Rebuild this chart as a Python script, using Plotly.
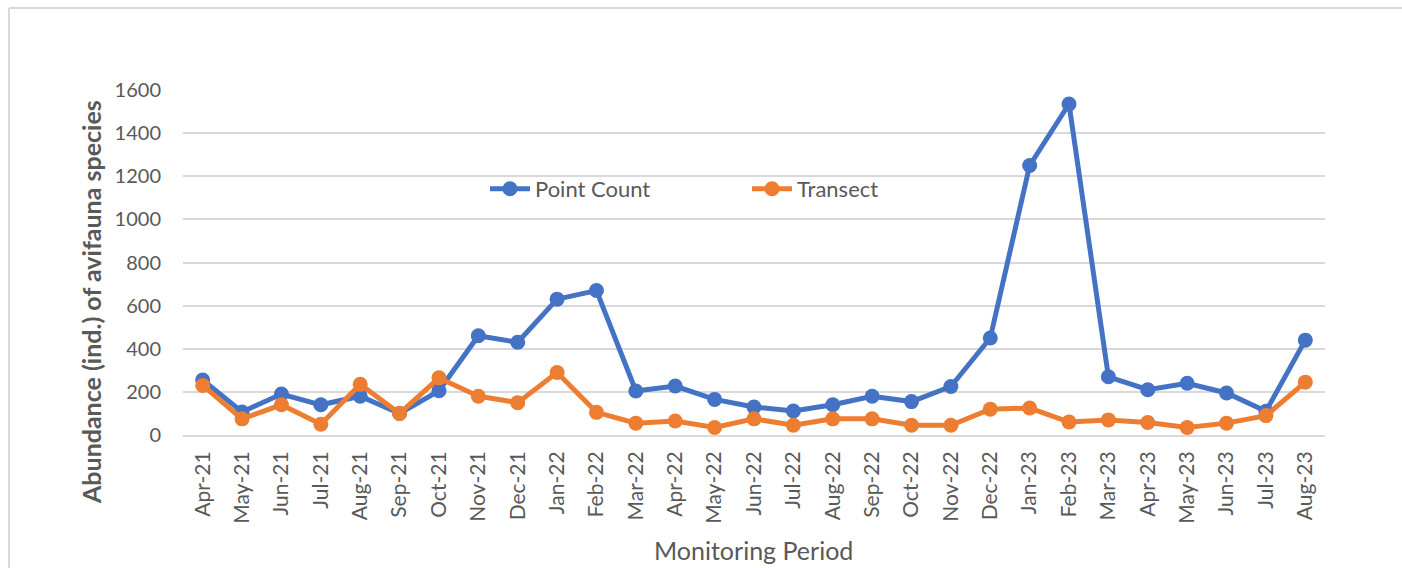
import plotly.graph_objects as go

months = ["Apr-21", "May-21", "Jun-21", "Jul-21", "Aug-21", "Sep-21", "Oct-21", "Nov-21",
          "Dec-21", "Jan-22", "Feb-22", "Mar-22", "Apr-22", "May-22", "Jun-22", "Jul-22",
          "Aug-22", "Sep-22", "Oct-22", "Nov-22", "Dec-22", "Jan-23", "Feb-23", "Mar-23",
          "Apr-23", "May-23", "Jun-23", "Jul-23", "Aug-23"]
point_count = [255, 107, 190, 140, 180, 100, 205, 460, 430, 630, 670, 204, 227, 165,
               130, 111, 140, 180, 155, 225, 450, 1250, 1535, 270, 210, 240, 195, 110, 440]
transect = [230, 75, 140, 50, 235, 100, 265, 180, 150, 290, 105, 55, 65, 35,
            75, 45, 75, 75, 45, 45, 120, 125, 60, 70, 58, 35, 55, 90, 245]
y_ticks = [0, 200, 400, 600, 800, 1000, 1200, 1400, 1600]

FONT = "Lato, 'Open Sans', sans-serif"
GRAY = "#595959"

fig = go.Figure()
fig.add_trace(go.Scatter(x=months, y=point_count, name="Point Count", mode="lines+markers",
                         line=dict(color="#4472C4", width=5),
                         marker=dict(size=15, color="#4472C4")))
fig.add_trace(go.Scatter(x=months, y=transect, name="Transect", mode="lines+markers",
                         line=dict(color="#ED7D31", width=5),
                         marker=dict(size=15, color="#ED7D31")))

W, H = 1402, 568
L, T = 183, 90
R = W - 1325
B = H - 435
pw, ph = W - L - R, H - T - B


def px(x):  # screen x -> paper
    return (x - L) / pw


def py(y):  # screen y -> paper
    return (H - B - y) / ph


border = dict(color="#d9d9d9", width=2)
fig.update_layout(
    width=W, height=H,
    margin=dict(l=L, r=R, t=T, b=B),
    paper_bgcolor="white", plot_bgcolor="white",
    font=dict(family=FONT, color=GRAY, size=16),
    showlegend=True,
    legend=dict(orientation="h", x=px(485), y=py(189), xanchor="left", yanchor="middle",
                font=dict(size=22, color=GRAY), bgcolor="rgba(0,0,0,0)",
                entrywidth=207, itemwidth=40),
    xaxis=dict(type="category", range=[-0.5, len(months) - 0.5], tickangle=-90,
               showgrid=False, showline=True,
               linecolor="#d9d9d9", linewidth=2, ticks="", tickfont=dict(size=21, color=GRAY),
               ticklabelstandoff=6),
    yaxis=dict(range=[0, 1600], tickvals=y_ticks, showgrid=True, gridcolor="#d9d9d9",
               gridwidth=1.5, zeroline=False, showline=False, ticks="",
               tickfont=dict(size=20, color=GRAY), ticklabelstandoff=21),
    shapes=[
        dict(type="line", xref="paper", yref="paper", x0=px(9), x1=px(1402),
             y0=py(8), y1=py(8), line=border, layer="below"),
        dict(type="line", xref="paper", yref="paper", x0=px(9), x1=px(9),
             y0=py(8), y1=py(568), line=border, layer="below"),
    ],
    annotations=[
        dict(text="<b>Abundance (ind.) of avifauna species</b>", xref="paper", yref="paper",
             x=px(91), y=py(302), textangle=-90, showarrow=False,
             font=dict(size=25, color=GRAY), xanchor="center", yanchor="middle"),
        dict(text="Monitoring Period", xref="paper", yref="paper",
             x=px(753), y=py(550), showarrow=False,
             font=dict(size=25, color=GRAY), xanchor="center", yanchor="middle"),
    ],
)

fig.write_html("out.html", config={"displayModeBar": False},
               post_script="document.body.style.margin='0';document.body.style.overflow='hidden';")
